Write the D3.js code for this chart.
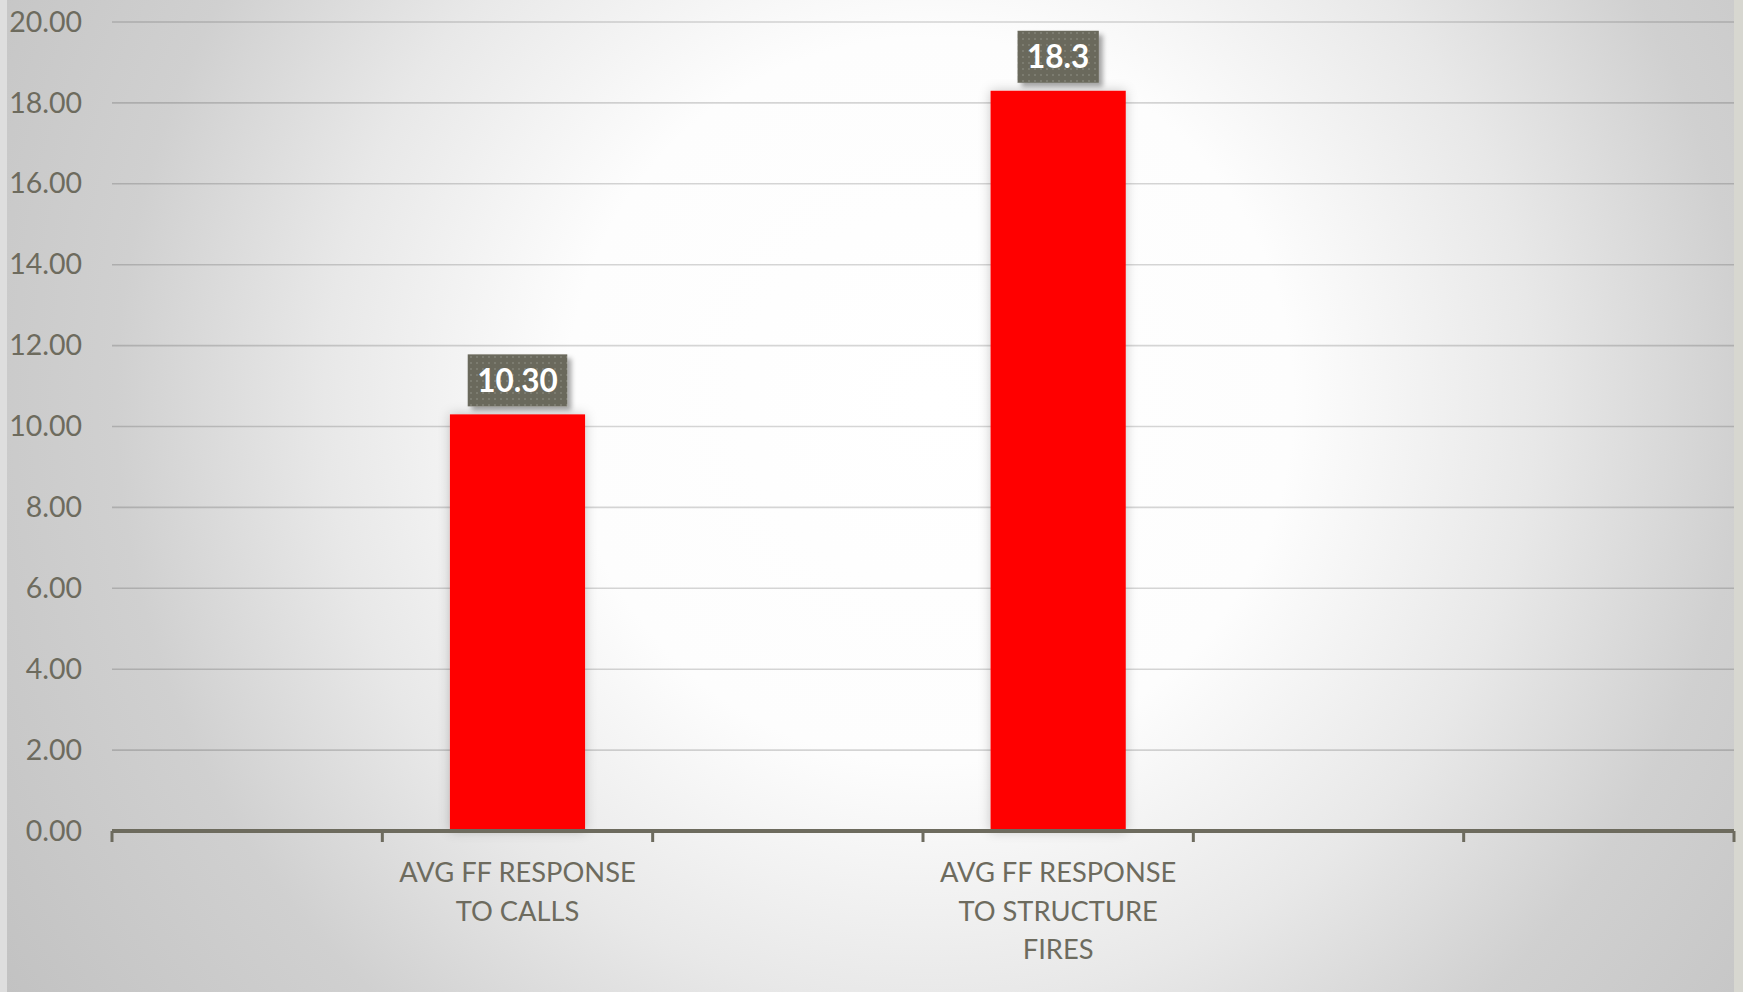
<!DOCTYPE html>
<html>
<head>
<meta charset="utf-8">
<script src="https://cdn.jsdelivr.net/npm/d3@7"></script>
<style>
  html, body { margin: 0; padding: 0; background: #c8c8c8; }
  svg { display: block; }
  text { font-family: Lato, "Open Sans", sans-serif; }
</style>
</head>
<body>
<svg id="chart" width="1743" height="992"></svg>
<script>
// Category slots on the horizontal axis (empty slots carry no label)
const categories = ["", "AVG FF RESPONSE TO CALLS", "", "AVG FF RESPONSE TO STRUCTURE FIRES", "", ""];
// Average response times, one per slot
const values = [null, 10.30, null, 18.3, null, null];
// Decimal places shown in each data label
const labelDecimals = [null, 2, null, 1, null, null];
// Value axis ticks
const yTicks = [0, 2, 4, 6, 8, 10, 12, 14, 16, 18, 20];

const W = 1743, H = 992;
const plot = { left: 112, right: 1734, top: 22, bottom: 831 };
const inkColor = "#6d6b5e";

const svg = d3.select("#chart");
const defs = svg.append("defs");

// Background radial gradient
const bg = defs.append("radialGradient")
  .attr("id", "bgGrad")
  .attr("gradientUnits", "userSpaceOnUse")
  .attr("cx", 930).attr("cy", 400).attr("r", 1100);
[[0, "#ffffff"], [0.33, "#fdfdfd"], [0.55, "#e8e8e8"], [0.74, "#d0d0d0"], [1, "#c2c2c2"]]
  .forEach(([o, c]) => bg.append("stop").attr("offset", o).attr("stop-color", c));

// Soft glow behind bars
const barShadow = defs.append("filter").attr("id", "barShadow")
  .attr("x", "-30%").attr("y", "-10%").attr("width", "160%").attr("height", "120%");
barShadow.append("feGaussianBlur").attr("in", "SourceAlpha").attr("stdDeviation", 6).attr("result", "b");
barShadow.append("feFlood").attr("flood-color", "#000").attr("flood-opacity", 0.22);
barShadow.append("feComposite").attr("in2", "b").attr("operator", "in").attr("result", "s");
const bm = barShadow.append("feMerge");
bm.append("feMergeNode").attr("in", "s");
bm.append("feMergeNode").attr("in", "SourceGraphic");

// Drop shadow for data-label boxes
const boxShadow = defs.append("filter").attr("id", "boxShadow")
  .attr("x", "-20%").attr("y", "-20%").attr("width", "150%").attr("height", "160%");
boxShadow.append("feGaussianBlur").attr("in", "SourceAlpha").attr("stdDeviation", 2.5).attr("result", "b");
boxShadow.append("feOffset").attr("dx", 4).attr("dy", 4).attr("result", "o");
boxShadow.append("feFlood").attr("flood-color", "#000").attr("flood-opacity", 0.35);
boxShadow.append("feComposite").attr("in2", "o").attr("operator", "in").attr("result", "s");
const bx = boxShadow.append("feMerge");
bx.append("feMergeNode").attr("in", "s");
bx.append("feMergeNode").attr("in", "SourceGraphic");

// Dotted texture for label boxes
const pat = defs.append("pattern").attr("id", "dots")
  .attr("patternUnits", "userSpaceOnUse").attr("width", 6).attr("height", 6);
pat.append("rect").attr("width", 6).attr("height", 6).attr("fill", "#6a695b");
pat.append("rect").attr("x", 2).attr("y", 2).attr("width", 2).attr("height", 2).attr("fill", "#7c7b6f");

// Chart area
svg.append("rect").attr("x", 0).attr("y", 0).attr("width", W).attr("height", H).attr("fill", "#dedede");
svg.append("rect").attr("x", 7).attr("y", 0).attr("width", plot.right - 7).attr("height", H).attr("fill", "url(#bgGrad)");
svg.append("rect").attr("x", plot.right).attr("y", 0).attr("width", W - plot.right).attr("height", H).attr("fill", "#d7d7d0");

// Scales
const x = d3.scaleBand()
  .domain(d3.range(categories.length))
  .range([plot.left, plot.right])
  .paddingInner(0.5)
  .paddingOuter(0.25);
const slot = d3.scaleLinear().domain([0, categories.length]).range([plot.left, plot.right]);
const y = d3.scaleLinear().domain([0, 20]).range([plot.bottom, plot.top]);

// Gridlines
svg.append("g")
  .selectAll("line")
  .data(yTicks.filter(t => t > 0))
  .join("line")
  .attr("x1", plot.left).attr("x2", plot.right)
  .attr("y1", d => y(d)).attr("y2", d => y(d))
  .attr("stroke", "#000").attr("stroke-opacity", 0.16).attr("stroke-width", 1.6);

// Value axis labels
const yAxis = svg.append("g")
  .attr("transform", `translate(${plot.left},0)`)
  .call(d3.axisLeft(y).tickValues(yTicks).tickFormat(d3.format(".2f")).tickSize(0).tickPadding(30));
yAxis.select(".domain").remove();
yAxis.selectAll("text")
  .attr("fill", inkColor)
  .style("font-size", "28.5px")
  .style("font-family", "Lato, sans-serif");

// Bars
const barData = values.map((v, i) => ({ i, v, dec: labelDecimals[i] })).filter(d => d.v != null);
svg.append("g")
  .selectAll("rect")
  .data(barData)
  .join("rect")
  .attr("x", d => x(d.i))
  .attr("width", x.bandwidth())
  .attr("y", d => y(d.v))
  .attr("height", d => y(0) - y(d.v))
  .attr("fill", "#ff0000")
  .attr("filter", "url(#barShadow)");

// Category axis line and boundary ticks
const xAxis = svg.append("g");
xAxis.append("line")
  .attr("x1", slot(0)).attr("x2", slot(categories.length))
  .attr("y1", y(0)).attr("y2", y(0))
  .attr("stroke", inkColor).attr("stroke-width", 4);
xAxis.selectAll("line.tick")
  .data(d3.range(categories.length + 1))
  .join("line")
  .attr("class", "tick")
  .attr("x1", d => slot(d)).attr("x2", d => slot(d))
  .attr("y1", y(0)).attr("y2", y(0) + 11)
  .attr("stroke", inkColor).attr("stroke-width", 3);

// Category labels, wrapped to the slot width
const labelGroup = svg.append("g");
const wrapWidth = 250;
categories.forEach((name, i) => {
  if (!name) return;
  const cx = slot(i + 0.5);
  const t = labelGroup.append("text")
    .attr("text-anchor", "middle")
    .attr("fill", inkColor)
    .style("font-size", "27.3px");
  const words = name.split(" ");
  let lines = [], line = [];
  const probe = t.append("tspan");
  words.forEach(w => {
    const trial = line.concat(w).join(" ");
    probe.text(trial);
    if (probe.node().getComputedTextLength() > wrapWidth && line.length) {
      lines.push(line.join(" "));
      line = [w];
    } else {
      line.push(w);
    }
  });
  lines.push(line.join(" "));
  probe.remove();
  lines.forEach((l, k) => {
    t.append("tspan").attr("x", cx).attr("y", y(0) + 51 + k * 38.5).text(l);
  });
});

// Data labels
const dl = svg.append("g").selectAll("g").data(barData).join("g");
dl.each(function(d) {
  const g = d3.select(this);
  const cx = x(d.i) + x.bandwidth() / 2;
  const txt = d3.format(`.${d.dec}f`)(d.v);
  const boxH = 52;
  const bottom = y(d.v) - 8;
  const rect = g.append("rect").attr("fill", "url(#dots)").attr("filter", "url(#boxShadow)");
  const t = g.append("text")
    .attr("x", cx).attr("y", bottom - boxH / 2 + 11.5)
    .attr("text-anchor", "middle")
    .attr("fill", "#ffffff")
    .style("font-size", "31.5px").style("font-weight", "700")
    .text(txt);
  const tw = t.node().getComputedTextLength();
  const bw = tw + 19;
  rect.attr("x", cx - bw / 2).attr("y", bottom - boxH).attr("width", bw).attr("height", boxH);
});
</script>
</body>
</html>
